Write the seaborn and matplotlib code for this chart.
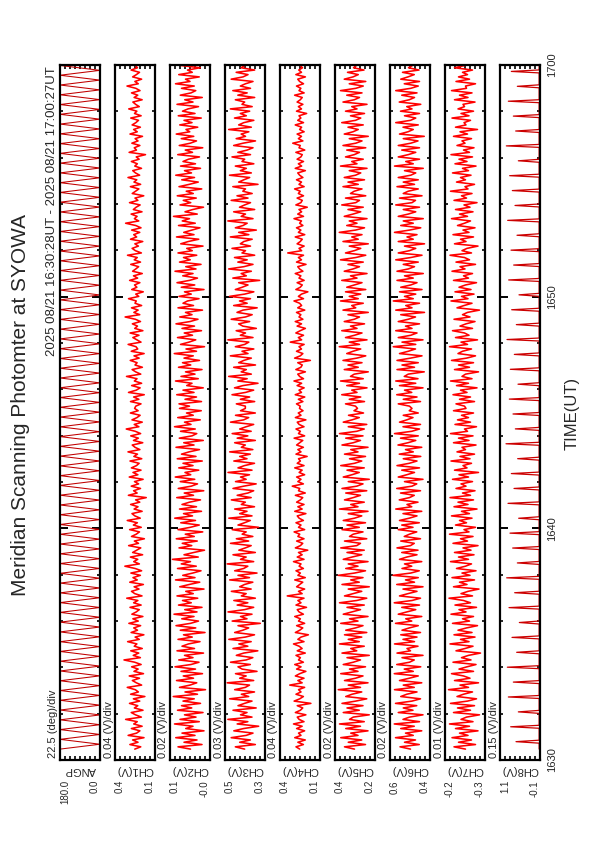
import numpy as np
import pandas as pd
import matplotlib
matplotlib.use("Agg")
import matplotlib.pyplot as plt
import seaborn as sns
from matplotlib.ticker import FixedLocator, MultipleLocator

sns.set_theme(style="white")
plt.rcParams["font.family"] = ["Liberation Sans", "DejaVu Sans"]

# ---------------- data ----------------
title = "Meridian Scanning Photomter at SYOWA"
subtitle = "2025 08/21 16:30:28UT - 2025 08/21 17:00:27UT"
time_label = "TIME(UT)"
time_ticks_min = [0, 10, 20, 30]
time_tick_labels = ["1630", "1640", "1650", "1700"]
data_start_min = 0.47
data_end_min = 29.98

panel_names = ["ANGP", "CH1(V)", "CH2(V)", "CH3(V)", "CH4(V)", "CH5(V)", "CH6(V)", "CH7(V)", "CH8(V)"]
div_labels = ["22.5 (deg)/div", "0.04 (V)/div", "0.02 (V)/div", "0.03 (V)/div", "0.04 (V)/div",
              "0.02 (V)/div", "0.02 (V)/div", "0.01 (V)/div", "0.15 (V)/div"]
range_max = [180.0, 0.42, 0.12, 0.52, 0.42, 0.40, 0.60, -0.25, 1.10]
range_min = [0.0, 0.10, -0.04, 0.28, 0.10, 0.24, 0.44, -0.33, -0.10]
max_labels = ["180.0", "0.4", "0.1", "0.5", "0.4", "0.4", "0.6", "-0.2", "1.1"]
min_labels = ["0.0", "0.1", "-0.0", "0.3", "0.1", "0.2", "0.4", "-0.3", "-0.1"]

# scan angle turning points (deg)
angp_deg = [180, 0, 180, 0, 180, 0, 180, 0, 180, 0, 180, 0, 180, 0, 180, 0, 180, 0, 180, 0,
            180, 0, 180, 0, 180, 0, 180, 0, 180, 0, 180, 0, 180, 0, 180, 0, 180, 0, 180, 0,
            180, 0, 180, 0, 180, 0, 180, 0, 180, 0, 180, 0, 180, 0, 180, 0, 180, 0, 180, 0,
            180, 0, 180, 0, 180, 0, 180, 0, 180, 0, 180, 0, 180, 0, 180, 0, 180, 0, 180, 0,
            180, 0, 180, 0, 180, 0, 180, 0, 180, 0, 180, 0, 180, 0, 180, 0, 180, 0, 180, 0,
            180, 0, 180, 0, 180, 0, 180, 0, 180, 0, 180, 0, 180, 0, 180, 0, 180, 0, 180, 0,
            180, 0, 180, 0, 180, 0, 180, 0, 180, 0, 180, 0, 180, 0, 180, 0, 180, 0, 180, 0,
            180]

ch1_mv = [262,214,301,236,279,188,315,247,221,289,203,270,242,335,209,256,290,196,265,238,304,222,273,181,295,233,258,322,207,249,
          281,224,306,192,268,235,287,211,262,348,217,274,230,294,202,266,245,319,226,259,189,291,240,270,215,309,234,277,197,285,
          250,226,300,211,271,237,326,204,262,288,228,267,193,302,242,276,217,293,207,259,341,225,270,238,297,199,279,246,214,311,
          232,265,185,288,250,224,303,210,273,241,322,218,261,284,203,267,236,295,222,255,170,313,243,271,216,290,231,264,195,306,
          237,276,212,289,248,227,300,206,269,240,316,221,260,282,198,272,233,294,215,258,330,229,266,202,284,244,219,297,235,263,
          254,212,296,229,271,186,312,250,219,287,207,265,244,328,214,255,283,201,260,243,298,227,268,187,290,238,252,315,212,245,
          277,228,299,197,262,240,281,216,257,339,222,269,235,288,207,260,250,312,230,254,194,286,245,264,221,303,239,272,202,279,
          254,231,294,216,266,242,320,209,257,283,233,261,198,296,247,270,222,287,212,254,335,230,265,243,291,204,273,251,219,304,
          237,260,190,282,255,229,297,215,268,246,316,223,256,278,208,262,241,289,227,250,176,307,248,266,221,285,236,259,200,300,
          242,271,217,283,253,232,294,211,264,245,310,226,255,277,203,267,238,288,220,253,324,234,261,207,279,249,224,291,240,258]
ch2_mv = [38,88,-8,64,12,97,20,72,-16,57,28,102,3,80,16,62,-12,90,33,74,-2,68,23,107,10,60,-22,82,40,13,
          94,26,67,-10,76,18,100,36,4,85,28,62,-14,92,22,72,46,0,88,31,66,-20,79,17,96,38,6,73,24,104,
          12,61,-8,86,35,70,9,92,27,57,-16,81,43,1,98,20,69,29,-4,90,15,75,38,110,7,64,25,-18,84,33,
          71,11,95,23,59,-11,88,39,3,77,18,101,30,66,-6,82,14,72,42,-2,93,26,63,-15,87,35,10,79,21,99,
          37,60,5,85,28,68,-9,91,16,74,44,2,96,24,65,-13,83,32,13,78,19,102,36,62,-1,89,27,54,-5,82,
          42,84,-6,60,14,93,24,68,-13,53,32,98,7,76,20,58,-8,86,37,70,2,64,27,103,14,56,-18,78,44,17,
          90,30,63,-6,72,22,96,40,8,81,32,58,-10,88,26,68,50,4,84,35,62,-16,75,21,92,42,10,69,28,100,
          16,57,-4,82,39,66,13,88,31,53,-12,77,47,5,94,24,65,33,0,86,19,71,42,106,11,60,29,-14,80,37,
          67,15,91,27,55,-7,84,43,7,73,22,97,34,62,-2,78,18,68,46,2,89,30,59,-11,83,39,14,75,25,95,
          41,56,9,81,32,64,-5,87,20,70,48,6,92,28,61,-9,79,36,17,74,23,98,40,58,3,85,31,50,-1,78]
ch3_mv = [402,458,338,432,368,483,393,352,467,408,318,447,383,503,358,427,388,472,333,442,403,358,492,378,422,343,462,398,373,507,
          348,432,393,457,328,417,442,368,487,393,353,452,408,323,472,383,437,363,497,398,343,462,413,378,442,308,477,388,427,358,
          502,403,348,447,383,467,338,422,393,482,363,432,403,353,492,373,442,328,462,408,383,507,348,427,393,472,338,437,398,363,
          487,378,452,353,417,393,477,318,442,403,368,497,358,432,388,462,343,422,398,482,363,447,383,348,472,408,333,457,393,427,
          373,502,358,442,403,343,467,388,432,368,492,353,422,398,462,338,447,383,477,363,432,393,348,487,408,378,457,338,427,398,
          398,452,342,428,372,478,397,348,463,412,322,443,387,498,362,423,392,468,337,438,407,362,488,382,418,347,458,402,377,503,
          352,428,397,453,332,413,438,372,483,397,357,448,412,327,468,387,433,367,493,402,347,458,417,382,438,312,473,392,423,362,
          498,407,352,443,387,463,342,418,397,478,367,428,407,357,488,377,438,332,458,412,387,503,352,423,397,468,342,433,402,367,
          483,382,448,357,413,397,473,322,438,407,372,493,362,428,392,458,347,418,402,478,367,443,387,352,468,412,337,453,397,423,
          377,498,362,438,407,347,463,392,428,372,488,357,418,402,458,342,443,387,473,367,428,397,352,483,412,382,453,342,423,402]
ch4_mv = [262,292,233,277,218,302,252,272,223,287,243,312,228,267,282,213,297,257,238,282,173,307,262,233,292,252,272,223,342,243,
          277,228,297,262,213,287,252,302,233,272,257,292,218,282,243,267,312,228,277,252,193,297,262,238,287,223,272,257,302,233,
          267,282,208,292,252,277,228,362,243,272,223,287,262,238,302,218,277,257,292,233,267,252,312,228,282,243,272,198,297,257,
          238,287,228,277,262,307,223,272,252,292,233,267,282,213,302,243,277,228,287,257,238,297,218,272,262,322,233,277,252,287,
          223,267,243,302,228,282,257,272,203,292,252,277,233,287,262,238,307,223,272,257,292,228,267,282,213,297,252,274,236,264,
          258,288,237,273,222,298,248,268,227,283,247,308,232,263,278,217,293,253,242,278,177,303,258,237,288,248,268,227,338,247,
          273,232,293,258,217,283,248,298,237,268,253,288,222,278,247,263,308,232,273,248,197,293,258,242,283,227,268,253,298,237,
          263,278,212,288,248,273,232,358,247,268,227,283,258,242,298,222,273,253,288,237,263,248,308,232,278,247,268,202,293,253,
          242,283,232,273,258,303,227,268,248,288,237,263,278,217,298,247,273,232,283,253,242,293,222,268,258,318,237,273,248,283,
          227,263,247,298,232,278,253,268,207,288,248,273,237,283,258,242,303,227,268,253,288,232,263,278,217,293,248,270,240,260]
ch5_mv = [322,362,278,347,293,377,308,337,268,357,298,382,283,342,327,263,367,303,352,288,372,317,273,357,332,293,387,298,347,268,
          362,318,288,377,308,342,278,367,327,298,352,263,372,313,337,283,382,303,347,293,362,273,357,318,288,377,308,342,268,367,
          332,298,352,283,382,313,273,362,327,293,347,263,372,303,337,288,387,322,278,357,308,347,268,367,332,293,352,283,377,313,
          298,362,273,342,327,288,372,303,352,278,367,322,293,347,268,382,308,337,283,362,327,298,357,273,372,313,288,347,263,367,
          332,303,352,283,377,322,293,342,278,362,308,337,268,372,327,298,357,288,382,313,283,347,273,367,332,303,346,286,324,310,
          318,358,282,343,297,373,312,333,272,353,302,378,287,338,323,267,363,307,348,292,368,313,277,353,328,297,383,302,343,272,
          358,322,292,373,312,338,282,363,323,302,348,267,368,317,333,287,378,307,343,297,358,277,353,322,292,373,312,338,272,363,
          328,302,348,287,378,317,277,358,323,297,343,267,368,307,333,292,383,318,282,353,312,343,272,363,328,297,348,287,373,317,
          302,358,277,338,323,292,368,307,348,282,363,318,297,343,272,378,312,333,287,358,323,302,353,277,368,317,292,343,267,363,
          328,307,348,287,373,318,297,338,282,358,312,333,272,368,323,302,353,292,378,317,287,343,277,363,328,307,350,284,326,314]
ch6_mv = [518,560,483,542,498,578,507,538,473,557,503,583,482,548,522,468,567,508,547,493,578,512,478,557,533,492,582,503,547,473,
          562,523,487,583,507,543,477,573,522,503,552,468,572,518,532,488,582,502,548,492,557,478,552,523,487,578,513,537,473,567,
          533,497,553,482,583,512,478,562,528,492,548,468,573,502,538,487,588,517,483,552,513,542,473,562,533,492,553,488,572,518,
          503,557,478,543,522,493,567,508,553,483,562,523,492,548,473,577,513,532,488,563,522,503,558,478,573,512,493,542,468,567,
          533,502,553,482,572,523,492,547,477,563,507,538,473,568,528,497,558,487,582,513,482,548,478,562,533,508,547,487,523,512,
          522,567,478,547,492,573,513,542,468,562,497,577,488,543,527,463,572,502,552,487,572,518,472,562,527,498,587,497,552,468,
          567,517,492,577,512,538,482,567,527,498,557,462,577,512,537,482,587,507,542,497,562,472,557,517,492,572,507,542,467,572,
          527,502,547,487,577,517,472,567,522,497,542,462,567,507,532,492,582,522,477,557,507,547,467,567,527,497,547,482,577,512,
          498,562,472,547,527,487,572,502,547,487,567,517,497,542,467,582,507,537,482,567,527,497,553,482,567,517,488,547,463,562,
          528,507,548,487,577,518,497,542,482,558,512,533,477,563,523,502,553,492,577,517,487,543,482,557,528,503,550,484,526,510]
ch7_mv = [-291,-268,-311,-277,-303,-264,-296,-279,-316,-271,-299,-259,-306,-282,-293,-319,-267,-301,-275,-309,-261,-295,-313,-274,-287,-305,-257,-297,-280,-317,
          -269,-300,-287,-263,-307,-278,-294,-312,-266,-302,-283,-297,-321,-272,-290,-306,-260,-298,-281,-310,-268,-304,-276,-293,-315,-265,-299,-285,-307,-262,
          -292,-278,-313,-270,-301,-287,-258,-305,-282,-296,-318,-267,-294,-279,-309,-264,-300,-284,-312,-273,-291,-303,-261,-297,-277,-308,-269,-302,-286,-316,
          -266,-295,-281,-306,-259,-298,-288,-311,-271,-293,-279,-304,-263,-299,-283,-314,-268,-296,-276,-307,-260,-301,-285,-310,-272,-292,-282,-305,-265,-297,
          -278,-317,-269,-294,-286,-303,-262,-300,-280,-309,-274,-291,-284,-312,-267,-298,-277,-306,-261,-295,-289,-313,-270,-301,-275,-297,-283,-307,-267,-292,
          -289,-272,-309,-279,-301,-266,-294,-281,-314,-273,-297,-261,-304,-284,-291,-317,-269,-299,-277,-307,-263,-293,-311,-276,-285,-303,-259,-295,-282,-315,
          -271,-298,-289,-265,-305,-280,-292,-310,-268,-300,-285,-295,-319,-274,-288,-304,-262,-296,-283,-308,-270,-302,-278,-291,-313,-267,-297,-287,-305,-264,
          -290,-280,-311,-272,-299,-289,-260,-303,-284,-294,-316,-269,-292,-281,-307,-266,-298,-286,-310,-275,-289,-301,-263,-295,-279,-306,-271,-300,-288,-314,
          -268,-293,-283,-304,-261,-296,-290,-309,-273,-291,-281,-302,-265,-297,-285,-312,-270,-294,-278,-305,-262,-299,-287,-308,-274,-290,-284,-303,-267,-295,
          -280,-315,-271,-292,-288,-301,-264,-298,-282,-307,-276,-289,-286,-310,-269,-296,-279,-304,-263,-293,-291,-311,-272,-299,-277,-295,-285,-305,-269,-290]
ch8_base_v = -0.075
ch8_peak_v = [0.62, 0.78, 0.55, 0.85, 0.70, 0.88, 0.60, 0.74, 0.52, 0.83, 0.66, 0.90, 0.58, 0.72, 0.80, 0.54,
              0.86, 0.68, 0.76, 0.57, 0.92, 0.64, 0.71, 0.82, 0.56, 0.79, 0.67, 0.89, 0.61, 0.75, 0.53, 0.84,
              0.69, 0.77, 0.59, 0.87, 0.65, 0.73, 0.81, 0.55, 0.91, 0.63, 0.70, 0.85, 0.58, 0.76]


def ch8_series():
    vals = []
    for p in ch8_peak_v:
        vals += [ch8_base_v] * 5 + [p] + [ch8_base_v] * 4
    return vals


series = [
    np.array(angp_deg, float),
    np.array(ch1_mv) / 1000.0,
    np.array(ch2_mv) / 1000.0,
    np.array(ch3_mv) / 1000.0,
    np.array(ch4_mv) / 1000.0,
    np.array(ch5_mv) / 1000.0,
    np.array(ch6_mv) / 1000.0,
    np.array(ch7_mv) / 1000.0,
    np.array(ch8_series()),
]
line_colors = ["#c00000", "#ff0000", "#ff0000", "#ff0000", "#ff0000", "#ff0000", "#ff0000", "#ff0000", "#cc0000"]
line_widths = [0.75, 1.15, 1.15, 1.15, 1.15, 1.15, 1.15, 1.15, 0.9]

# ---------------- layout ----------------
W, H = 595, 842
fig = plt.figure(figsize=(W / 100, H / 100), dpi=100)
fig.patch.set_facecolor("white")

def fx(px):
    return px / W

def fy(py):
    return 1 - py / H

panel_top, panel_bot, panel_w = 65, 760, 40
lefts = [60 + 55 * i for i in range(9)]

for i, vals in enumerate(series):
    l = lefts[i]
    ax = fig.add_axes([fx(l), fy(panel_bot), panel_w / W, (panel_bot - panel_top) / H])
    t = np.linspace(data_start_min, data_end_min, len(vals))
    df = pd.DataFrame({"value": vals, "time": t})
    sns.lineplot(data=df, x="value", y="time", orient="y", sort=False, estimator=None,
                 color=line_colors[i], lw=line_widths[i], ax=ax)
    ax.set_xlim(range_max[i], range_min[i])
    ax.set_ylim(0, 30)
    ax.set_xlabel("")
    ax.set_ylabel("")
    ax.set_facecolor("white")
    for s in ax.spines.values():
        s.set_visible(True)
        s.set_color("black")
        s.set_linewidth(1.6)
    ax.yaxis.set_major_locator(FixedLocator(time_ticks_min))
    ax.yaxis.set_minor_locator(MultipleLocator(2))
    ax.tick_params(axis="y", which="both", direction="in", left=True, right=True,
                   labelleft=False, labelright=False, color="black")
    ax.tick_params(axis="y", which="major", length=6, width=1.4)
    ax.tick_params(axis="y", which="minor", length=2.5, width=1.2)
    ax.xaxis.set_major_locator(FixedLocator(np.linspace(range_min[i], range_max[i], 9)))
    ax.tick_params(axis="x", which="major", direction="in", bottom=True, top=True,
                   labelbottom=False, labeltop=False, length=3, width=1.2, color="black")
    ax.grid(False)

    # per-panel texts
    fig.text(fx(l - 6.5), fy(758), div_labels[i], rotation=90, ha="center", va="bottom", fontsize=8)
    fig.text(fx(l + panel_w / 2), fy(770), panel_names[i], rotation=180, ha="center", va="center", fontsize=8)
    fig.text(fx(l + 5), fy(780), max_labels[i], rotation=90, ha="center", va="top", fontsize=7)
    fig.text(fx(l + panel_w - 5), fy(780), min_labels[i], rotation=90, ha="center", va="top", fontsize=7)

# time tick labels
for tm, lab in zip(time_ticks_min, time_tick_labels):
    py = panel_bot - (panel_bot - panel_top) * tm / 30.0
    fig.text(fx(552), fy(py), lab, rotation=90, ha="center", va="center", fontsize=8)

fig.text(fx(572), fy(413), time_label, rotation=90, ha="center", va="center", fontsize=12)
fig.text(fx(21), fy(405), title, rotation=90, ha="center", va="center", fontsize=15)
fig.text(fx(52), fy(66), subtitle, rotation=90, ha="center", va="top", fontsize=9.5)

fig.savefig("out.png", dpi=100, facecolor="white")
